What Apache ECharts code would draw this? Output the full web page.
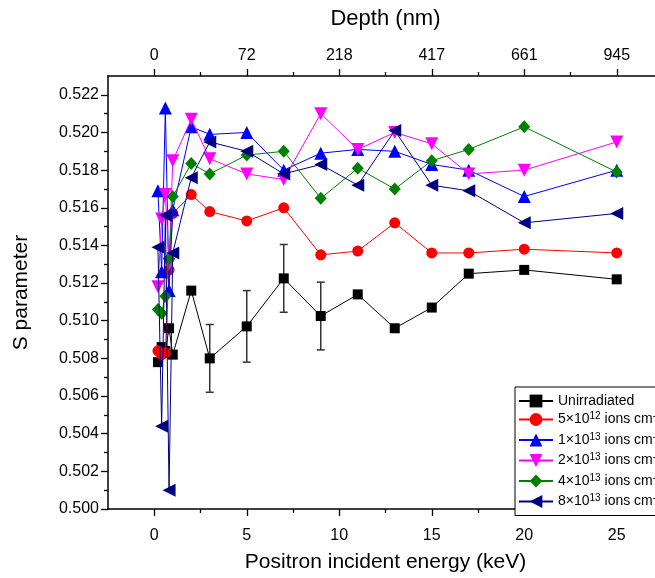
<!DOCTYPE html>
<html>
<head>
<meta charset="utf-8">
<script src="https://cdn.jsdelivr.net/npm/echarts@6/dist/echarts.min.js"></script>
<style>
html,body{margin:0;padding:0;overflow:hidden;background:#fff;}
#c{width:700px;height:578px;}
</style>
</head>
<body>
<div id="c"></div>
<script>
// ---- data ----
const energy = [0.2, 0.4, 0.6, 0.8, 1.0, 2, 3, 5, 7, 9, 11, 13, 15, 17, 20, 25];
const unirradiated = [0.5078, 0.5086, 0.5084, 0.5096, 0.5082, 0.5116, 0.5080, 0.5097, 0.51225, 0.51025, 0.5114, 0.5096, 0.5107, 0.5125, 0.5127, 0.5122];
const unirrError   = [null, null, null, null, null, null, 0.0018, 0.0019, 0.0018, 0.0018, null, null, null, null, null, null];
const dose5e12 = [0.5084, 0.5082, 0.5083, 0.5127, 0.5157, 0.5167, 0.5158, 0.5153, 0.5160, 0.5135, 0.5137, 0.5152, 0.5136, 0.5136, 0.5138, 0.5136];
const dose1e13 = [0.5169, 0.5126, 0.5213, 0.5116, 0.5159, 0.5203, 0.5199, 0.5200, 0.5180, 0.5189, 0.5191, 0.5190, 0.5183, 0.5180, 0.5166, 0.5180];
const dose2e13 = [0.5118, 0.5154, 0.5167, 0.5130, 0.5185, 0.5207, 0.5186, 0.5178, 0.5175, 0.5210, 0.5191, 0.5200, 0.5194, 0.5178, 0.5180, 0.5195];
const dose4e13 = [0.5106, 0.5104, 0.5113, 0.5133, 0.5166, 0.51835, 0.5178, 0.5188, 0.5190, 0.5165, 0.5181, 0.5170, 0.5185, 0.5191, 0.5203, 0.5179];
const dose8e13 = [0.5139, 0.5044, 0.5156, 0.5010, 0.5136, 0.5176, 0.5195, 0.5190, 0.5178, 0.5183, 0.5172, 0.5201, 0.5172, 0.5169, 0.5152, 0.5157];

const xMajorTicks = [0, 5, 10, 15, 20, 25];
const xMinorTicks = [2.5, 7.5, 12.5, 17.5, 22.5];
const depthLabels = ['0', '72', '218', '417', '661', '945'];
const yMajorTicks = [0.500, 0.502, 0.504, 0.506, 0.508, 0.510, 0.512, 0.514, 0.516, 0.518, 0.520, 0.522];
const yMinorTicks = [0.501, 0.503, 0.505, 0.507, 0.509, 0.511, 0.513, 0.515, 0.517, 0.519, 0.521];

const seriesNames = ['Unirradiated', '5×10^12', '1×10^13', '2×10^13', '4×10^13', '8×10^13'];
// ---- end data ----

const FONT = '"Liberation Sans", Arial, sans-serif';
const pairs = ys => energy.map((e, i) => [e, ys[i]]);

const chart = echarts.init(document.getElementById('c'), null, {renderer: 'canvas'});

function mkX(pos, ticks, isMajor, extra) {
  return Object.assign({
    type: 'value', position: pos, min: -2.5, max: 27.5, interval: 2.5,
    axisLine: {show: isMajor, onZero: false, lineStyle: {color: '#000', width: 1.5}},
    axisTick: {show: true, customValues: ticks, length: isMajor ? 7 : 4, lineStyle: {color: '#000', width: 1.3}},
    axisLabel: {show: false},
    splitLine: {show: false}
  }, extra || {});
}
function mkY(ticks, isMajor, extra) {
  return Object.assign({
    type: 'value', position: 'left', min: 0.500, max: 0.523, interval: 0.001,
    axisLine: {show: isMajor, onZero: false, lineStyle: {color: '#000', width: 1.5}},
    axisTick: {show: true, customValues: ticks, length: isMajor ? 7 : 4, lineStyle: {color: '#000', width: 1.3}},
    axisLabel: {show: false},
    splitLine: {show: false}
  }, extra || {});
}

const legendRich = {
  n: {fontFamily: FONT, fontSize: 14, color: '#000', lineHeight: 16},
  s: {fontFamily: FONT, fontSize: 10, color: '#000', lineHeight: 16, verticalAlign: 'top', padding: [0, 0, 7, 0]}
};
function legendFmt(name) {
  if (name === 'Unirradiated') return '{n|Unirradiated}';
  const m = name.split('^');
  return '{n|' + m[0] + '}{s|' + m[1] + '}{n| ions cm}{s|-2}';
}

const styles = [
  {color: '#000000', symbol: 'rect', size: 10, rot: 0},
  {color: '#ff0000', symbol: 'circle', size: 11, rot: 0},
  {color: '#0000ff', symbol: 'triangle', size: 13, rot: 0},
  {color: '#ff00ff', symbol: 'triangle', size: 13, rot: 180},
  {color: '#008000', symbol: 'diamond', size: 14, rot: 0},
  {color: '#000080', symbol: 'triangle', size: 13, rot: 90}
];
const datasets = [unirradiated, dose5e12, dose1e13, dose2e13, dose4e13, dose8e13];

const lineSeries = datasets.map((ys, k) => ({
  name: seriesNames[k],
  type: 'line',
  xAxisIndex: 0, yAxisIndex: 0,
  data: pairs(ys),
  symbol: styles[k].symbol,
  symbolSize: styles[k].symbol === 'diamond' ? [12, 13] : styles[k].size,
  symbolRotate: styles[k].rot,
  itemStyle: {color: styles[k].color},
  lineStyle: {color: styles[k].color, width: 1},
  z: 3 + k,
  animation: false
}));

const errData = energy.map((e, i) => unirrError[i] == null ? null : [e, unirradiated[i], unirrError[i]]).filter(d => d);
const errSeries = {
  type: 'custom',
  xAxisIndex: 0, yAxisIndex: 0,
  data: errData,
  z: 2,
  silent: true,
  animation: false,
  renderItem: function (params, api) {
    const x = api.value(0), y = api.value(1), e = api.value(2);
    const top = api.coord([x, y + e]);
    const bot = api.coord([x, y - e]);
    const w = 4;
    const st = {stroke: '#333', lineWidth: 1.5};
    return {type: 'group', children: [
      {type: 'line', shape: {x1: top[0], y1: top[1], x2: bot[0], y2: bot[1]}, style: st},
      {type: 'line', shape: {x1: top[0] - w, y1: top[1], x2: top[0] + w, y2: top[1]}, style: st},
      {type: 'line', shape: {x1: bot[0] - w, y1: bot[1], x2: bot[0] + w, y2: bot[1]}, style: st}
    ]};
  }
};

const option = {
  animation: false,
  backgroundColor: '#fff',
  grid: {left: 108, right: 37, top: 76, bottom: 66, containLabel: false},
  xAxis: [
    mkX('bottom', xMajorTicks, true, {
      name: 'Positron incident energy (keV)', nameLocation: 'middle', nameGap: 43,
      nameTextStyle: {fontFamily: FONT, fontSize: 21, color: '#000'},
      axisLabel: {show: true, customValues: xMajorTicks, margin: 19, fontFamily: FONT, fontSize: 16, color: '#000',
        formatter: v => String(Math.round(v))}
    }),
    mkX('bottom', xMinorTicks, false),
    mkX('top', xMajorTicks, true, {
      name: 'Depth (nm)', nameLocation: 'middle', nameGap: 46,
      nameTextStyle: {fontFamily: FONT, fontSize: 22, color: '#000'},
      axisLabel: {show: true, customValues: xMajorTicks, margin: 12, fontFamily: FONT, fontSize: 16, color: '#000',
        formatter: v => depthLabels[xMajorTicks.indexOf(Math.round(v))] || ''}
    }),
    mkX('top', xMinorTicks, false)
  ],
  yAxis: [
    mkY(yMajorTicks, true, {
      name: 'S parameter', nameLocation: 'middle', nameGap: 76, nameRotate: 90,
      nameTextStyle: {fontFamily: FONT, fontSize: 21, color: '#000'},
      axisLabel: {show: true, customValues: yMajorTicks, margin: 9, fontFamily: FONT, fontSize: 16, color: '#000',
        formatter: v => v.toFixed(3)}
    }),
    mkY(yMinorTicks, false)
  ],
  legend: {
    show: true,
    orient: 'vertical',
    left: 515, top: 387,
    padding: [7, 6, 5, 3],
    itemWidth: 34, itemHeight: 16, itemGap: 3.5,
    backgroundColor: '#fff',
    borderColor: '#000', borderWidth: 1,
    data: seriesNames,
    formatter: legendFmt,
    textStyle: {rich: legendRich, fontFamily: FONT, fontSize: 14, color: '#000'},
    selectedMode: false
  },
  series: lineSeries.concat([errSeries])
};
chart.setOption(option);
</script>
</body>
</html>
